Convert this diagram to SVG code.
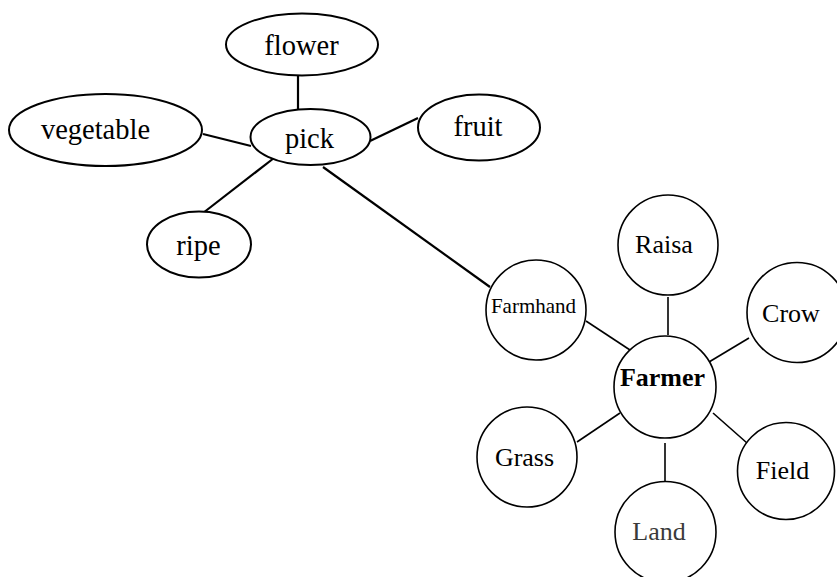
<svg xmlns="http://www.w3.org/2000/svg" width="837" height="577" viewBox="0 0 837 577">
<style>
.n{fill:#fff;stroke:#000;stroke-width:2}
.c{fill:#fff;stroke:#000;stroke-width:1.6}
.t{font-family:"Liberation Serif","Times New Roman",serif;text-anchor:middle;fill:#000}
.a{font-size:28.5px}
.b{font-size:26px}
.e{stroke:#000;stroke-width:2.2;fill:none}
.f{stroke:#000;stroke-width:1.6;fill:none}
</style>
<rect width="837" height="577" fill="#fff"/>
<g id="connectors">
<line class="e" x1="298" y1="70" x2="298" y2="118"/>
<line class="e" x1="203" y1="134" x2="251" y2="146"/>
<line class="e" x1="203" y1="213" x2="274" y2="158"/>
<line class="e" x1="370" y1="141" x2="418" y2="118"/>
<line class="e" x1="323" y1="167" x2="490" y2="287"/>
<line class="f" x1="668" y1="297" x2="668" y2="335"/>
<line class="f" x1="586" y1="321" x2="630" y2="350"/>
<line class="f" x1="749" y1="338" x2="709" y2="362"/>
<line class="f" x1="577" y1="442" x2="620" y2="413"/>
<line class="f" x1="713" y1="413" x2="747" y2="443"/>
<line class="f" x1="665" y1="443" x2="665" y2="481"/>
</g>
<g id="flower"><ellipse class="n" cx="302" cy="44.5" rx="76" ry="31"/><text class="t a" x="301.5" y="55">flower</text></g>
<g id="vegetable"><ellipse class="n" cx="105.5" cy="130" rx="96.5" ry="36"/><text class="t a" x="95.5" y="139">vegetable</text></g>
<g id="pick"><ellipse class="n" cx="310.5" cy="137" rx="60" ry="28"/><text class="t a" x="309.5" y="148">pick</text></g>
<g id="fruit"><ellipse class="n" cx="479" cy="127.5" rx="61" ry="33"/><text class="t a" x="478" y="136">fruit</text></g>
<g id="ripe"><ellipse class="n" cx="199" cy="244.5" rx="52" ry="33"/><text class="t a" x="198.5" y="255">ripe</text></g>
<g id="Raisa"><circle class="c" cx="668" cy="245" r="50"/><text class="t b" x="664" y="253">Raisa</text></g>
<g id="Farmhand"><circle class="c" cx="536" cy="310" r="50"/><text class="t" style="font-size:21px" x="533.5" y="313">Farmhand</text></g>
<g id="Crow"><circle class="c" cx="797" cy="312.5" r="50"/><text class="t b" x="791" y="322">Crow</text></g>
<g id="Farmer"><circle class="c" cx="665" cy="387" r="51"/><text class="t b" style="font-weight:bold" x="662.5" y="386">Farmer</text></g>
<g id="Grass"><circle class="c" cx="527" cy="457" r="50"/><text class="t b" x="524.5" y="466">Grass</text></g>
<g id="Field"><circle class="c" cx="786" cy="471" r="48.5"/><text class="t b" x="782.5" y="479">Field</text></g>
<g id="Land"><circle class="c" cx="665.5" cy="532" r="50.5"/><text class="t b" style="fill:#3a3a3a" x="659" y="540">Land</text></g>
</svg>
